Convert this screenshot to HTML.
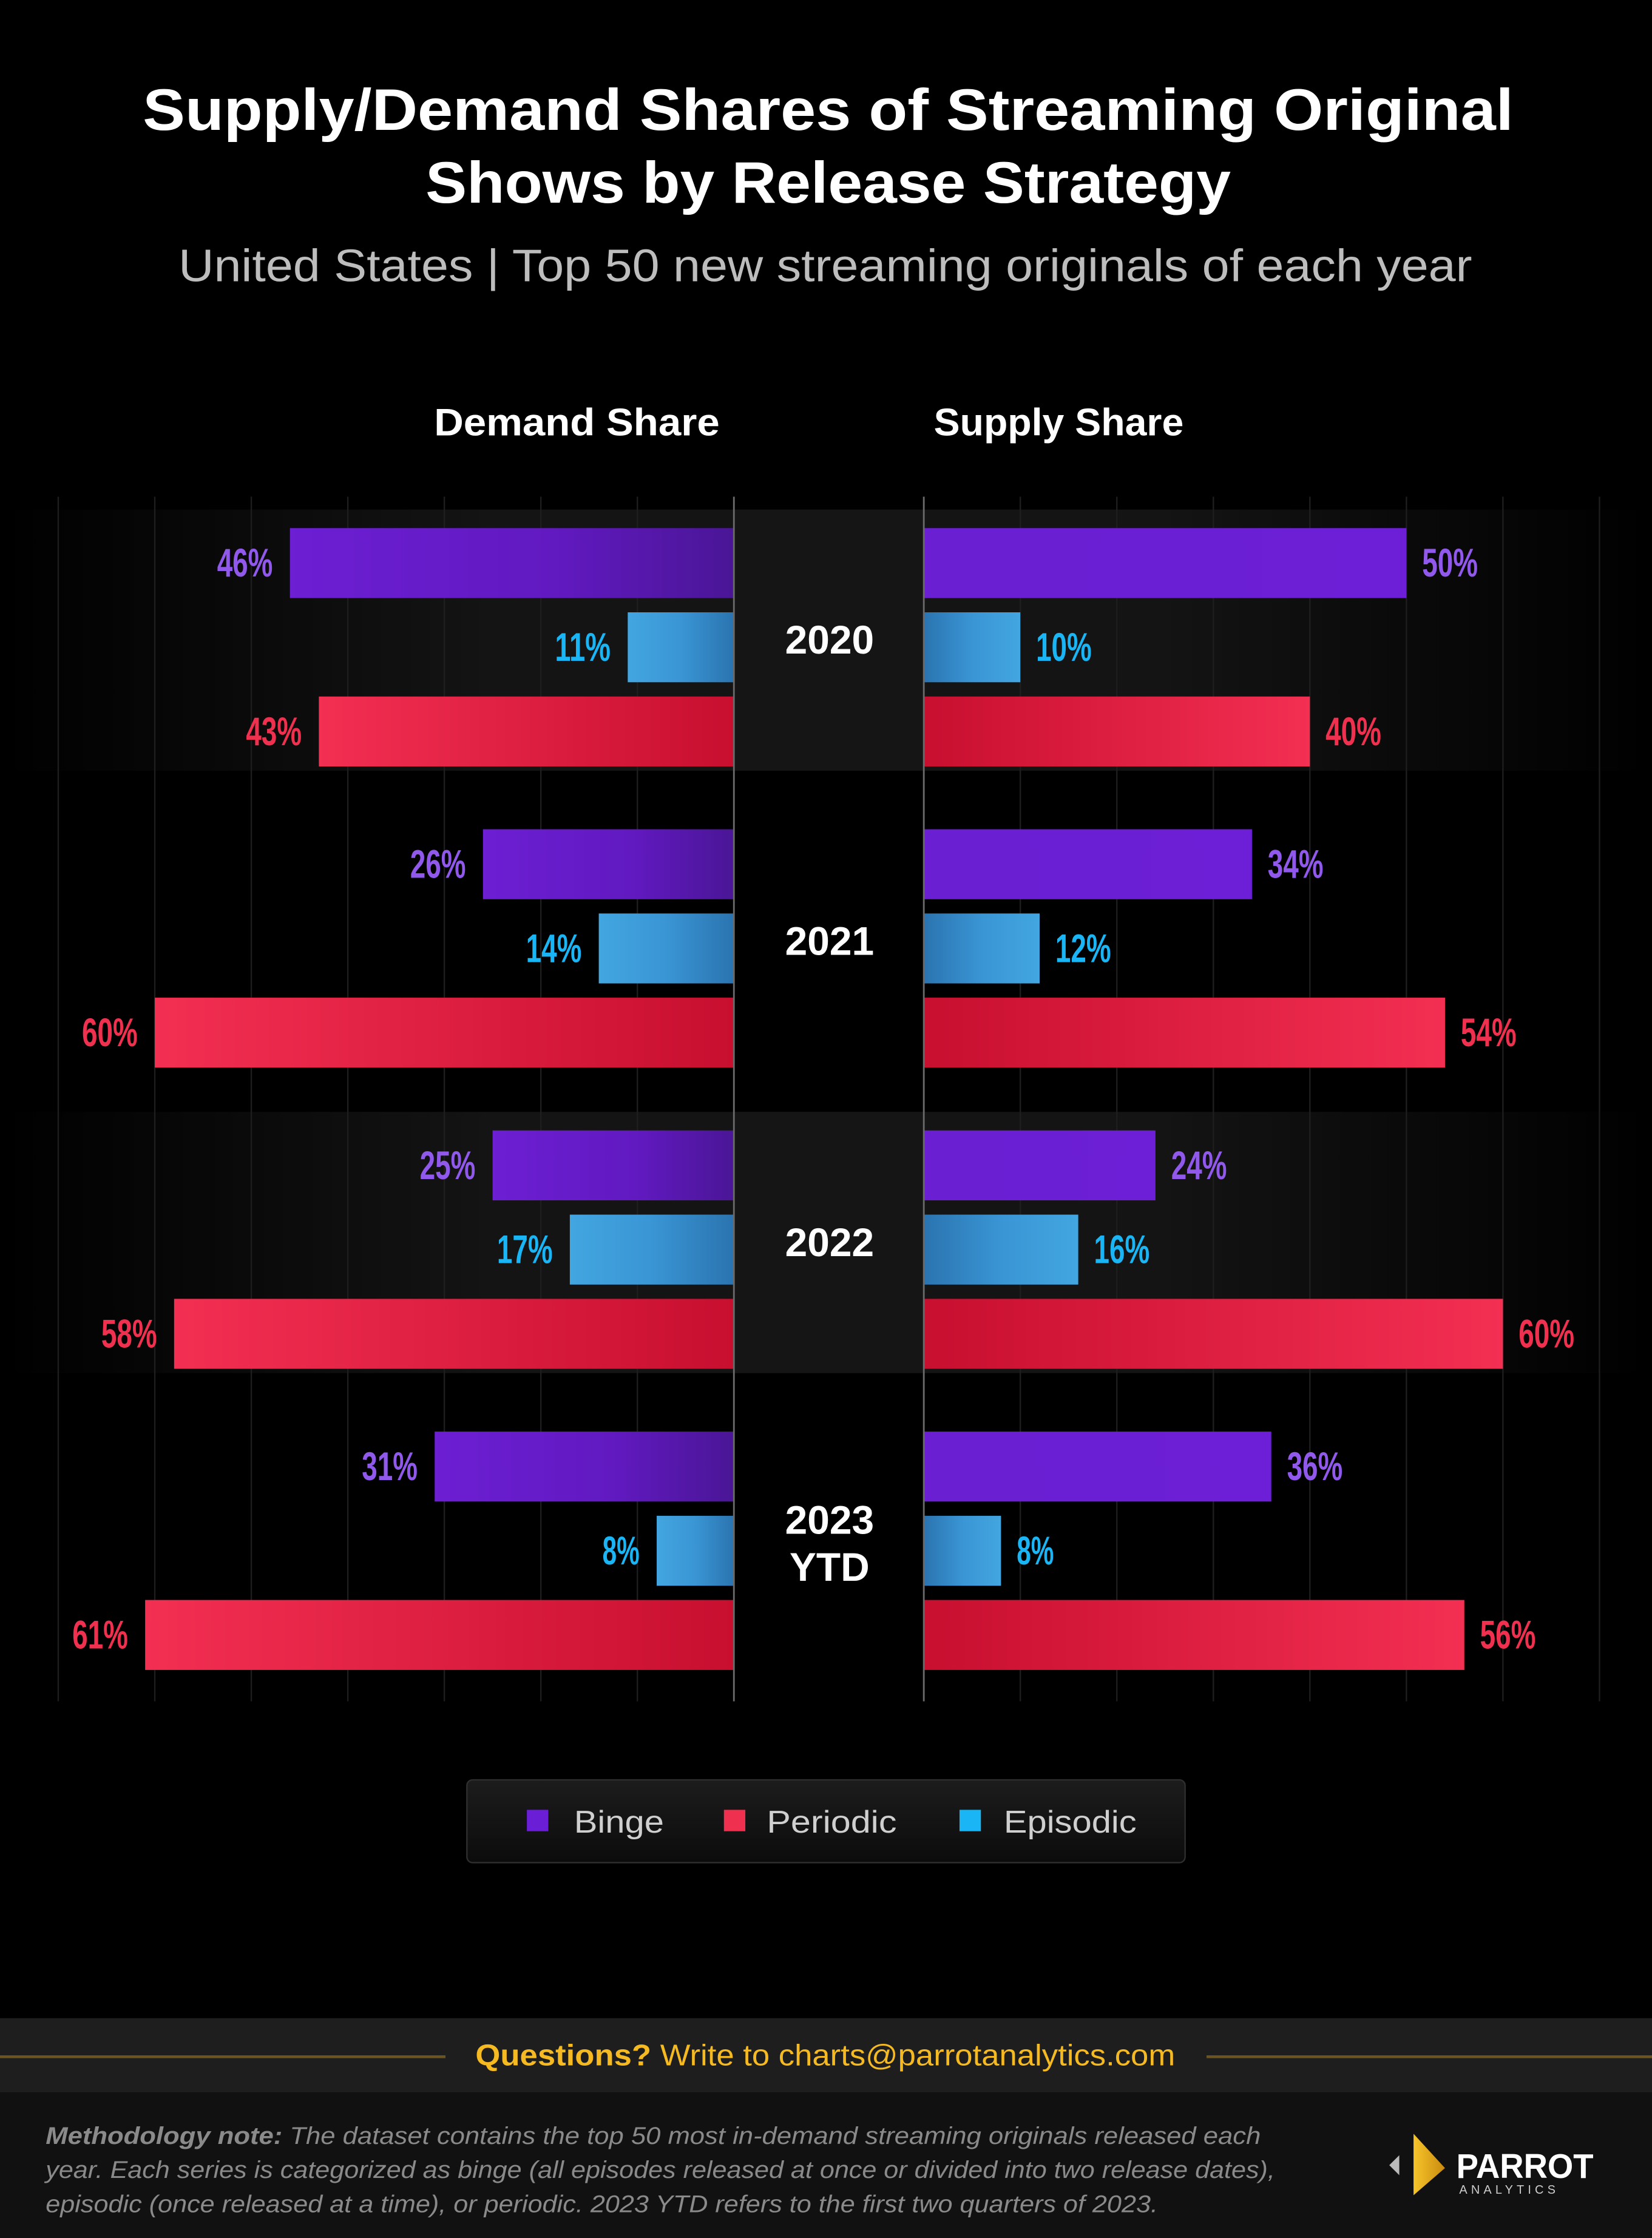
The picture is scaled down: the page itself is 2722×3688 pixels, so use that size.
<!DOCTYPE html>
<html><head><meta charset="utf-8"><style>
html,body{margin:0;padding:0;background:#000;}
svg{display:block;}
text{font-family:"Liberation Sans",sans-serif;}
</style></head><body>
<svg id="chart" width="2722" height="3688" viewBox="0 0 1157 1568" preserveAspectRatio="none" xmlns="http://www.w3.org/2000/svg">
<defs>
<linearGradient id="bandL" x1="0" x2="1"><stop offset="0" stop-color="#141414" stop-opacity="0"/><stop offset="0.3" stop-color="#141414"/><stop offset="0.7" stop-color="#141414"/><stop offset="1" stop-color="#141414" stop-opacity="0"/></linearGradient>
<linearGradient id="bingeL" x1="0" x2="1"><stop offset="0" stop-color="#6c1fd3"/><stop offset="0.6" stop-color="#6119c0"/><stop offset="1" stop-color="#4a1696"/></linearGradient>
<linearGradient id="bingeR" x1="0" x2="1"><stop offset="0" stop-color="#6a1fd2"/><stop offset="1" stop-color="#6c1fd6"/></linearGradient>
<linearGradient id="epiL" x1="0" x2="1"><stop offset="0" stop-color="#42a6e0"/><stop offset="0.5" stop-color="#3a95d4"/><stop offset="1" stop-color="#2a74b0"/></linearGradient>
<linearGradient id="epiR" x1="0" x2="1"><stop offset="0" stop-color="#2a74b0"/><stop offset="0.5" stop-color="#3a95d4"/><stop offset="1" stop-color="#42a6e0"/></linearGradient>
<linearGradient id="perL" x1="0" x2="1"><stop offset="0" stop-color="#f32f52"/><stop offset="1" stop-color="#c80f30"/></linearGradient>
<linearGradient id="perR" x1="0" x2="1"><stop offset="0" stop-color="#c80f30"/><stop offset="1" stop-color="#f32f52"/></linearGradient>
<linearGradient id="legendG" x1="0" x2="0" y1="0" y2="1"><stop offset="0" stop-color="#1c1c1c"/><stop offset="1" stop-color="#0c0c0c"/></linearGradient>
<linearGradient id="logoG" x1="0" x2="1"><stop offset="0" stop-color="#f7c52a"/><stop offset="1" stop-color="#c98a10"/></linearGradient>
</defs>
<rect x="0" y="0" width="1157" height="1568" fill="#000"/>
<text x="100" y="91" textLength="960" lengthAdjust="spacingAndGlyphs" fill="#fff" font-size="41" font-weight="bold">Supply/Demand Shares of Streaming Original</text>
<text x="298" y="142" textLength="564" lengthAdjust="spacingAndGlyphs" fill="#fff" font-size="41" font-weight="bold">Shows by Release Strategy</text>
<text x="125" y="197" textLength="906" lengthAdjust="spacingAndGlyphs" fill="#bdbdbd" font-size="32">United States  |  Top 50 new streaming originals of each year</text>
<text x="304" y="305" textLength="200" lengthAdjust="spacingAndGlyphs" fill="#fff" font-size="27" font-weight="bold">Demand Share</text>
<text x="654" y="305" textLength="175" lengthAdjust="spacingAndGlyphs" fill="#fff" font-size="27" font-weight="bold">Supply Share</text>
<g id="plot"></g>
<g>
<rect x="327" y="1247" width="503" height="58" rx="4" fill="url(#legendG)" stroke="#2e2e2e"/>
<rect x="369" y="1268" width="15" height="15" fill="#6a1fd6"/>
<text x="402" y="1284" textLength="63" lengthAdjust="spacingAndGlyphs" fill="#cfcfcf" font-size="22">Binge</text>
<rect x="507" y="1268" width="15" height="15" fill="#f0304f"/>
<text x="537" y="1284" textLength="91" lengthAdjust="spacingAndGlyphs" fill="#cfcfcf" font-size="22">Periodic</text>
<rect x="672" y="1268" width="15" height="15" fill="#19b5f5"/>
<text x="703" y="1284" textLength="93" lengthAdjust="spacingAndGlyphs" fill="#cfcfcf" font-size="22">Episodic</text>
</g>
<rect x="0" y="1414" width="1157" height="52" fill="#1e1e1e"/>
<line x1="0" y1="1441" x2="312" y2="1441" stroke="#6b5420" stroke-width="2"/>
<line x1="845" y1="1441" x2="1157" y2="1441" stroke="#6b5420" stroke-width="2"/>
<text x="333" y="1447" textLength="490" lengthAdjust="spacingAndGlyphs" fill="#f5b921" font-size="21"><tspan font-weight="bold">Questions?</tspan> Write to charts@parrotanalytics.com</text>
<rect x="0" y="1466" width="1157" height="102" fill="#111"/>
<g fill="#8a8a8a" font-size="17" font-style="italic">
<text x="32" y="1502" textLength="851" lengthAdjust="spacingAndGlyphs"><tspan font-weight="bold">Methodology note:</tspan> The dataset contains the top 50 most in-demand streaming originals released each</text>
<text x="32" y="1526" textLength="861" lengthAdjust="spacingAndGlyphs">year. Each series is categorized as binge (all episodes released at once or divided into two release dates),</text>
<text x="32" y="1550" textLength="779" lengthAdjust="spacingAndGlyphs">episodic (once released at a time), or periodic. 2023 YTD refers to the first two quarters of 2023.</text>
</g>
<g>
<polygon points="973,1517 980,1510 980,1524" fill="#bbb"/>
<polygon points="990,1495 1012,1519 990,1538" fill="url(#logoG)"/>
<text x="1020" y="1526" textLength="96" lengthAdjust="spacingAndGlyphs" fill="#fff" font-size="24" font-weight="bold">PARROT</text>
<text x="1022" y="1537" fill="#ccc" font-size="8.5" letter-spacing="2.6">ANALYTICS</text>
</g>
</svg>
<script>
const years = ["2020","2021","2022","2023 YTD"];
const demandBinge = [46,26,25,31];
const demandEpisodic = [11,14,17,8];
const demandPeriodic = [43,60,58,61];
const supplyBinge = [50,34,24,36];
const supplyEpisodic = [10,12,16,8];
const supplyPeriodic = [40,54,60,56];
const gridTicks = [0,10,20,30,40,50,60,70];

const NS="http://www.w3.org/2000/svg";
const plot=document.getElementById('plot');
const L0=514, R0=647, PX=6.76, TOP=370, GROUP=211, ROW=59, BH=49;
const xl=v=>L0-v*PX, xr=v=>R0+v*PX;
const gy=i=>TOP+i*GROUP;
function mk(tag,attrs){const e=document.createElementNS(NS,tag);for(const k in attrs)e.setAttribute(k,attrs[k]);plot.appendChild(e);return e;}
years.forEach((y,i)=>{ if(i%2===0){
  const b=mk('rect',{x:0,y:gy(i)-13,width:1157,height:183,fill:'url(#bandL)'});
  
  
  const c=mk('rect',{x:L0,y:gy(i)-13,width:R0-L0,height:183,fill:'#151515'});
  
  
}});
gridTicks.forEach(t=>{ if(t===0)return;
  [xl(t),xr(t)].forEach(x=>{ if(x<30||x>1127)return;
    const g=mk('line',{x1:x,y1:348,x2:x,y2:1192,stroke:'#1e1e1e','stroke-width':1});
    
    
  });
});
const series=[
 {name:'binge',d:demandBinge,s:supplyBinge,fl:'url(#bingeL)',fr:'url(#bingeR)',lc:'#9059ec'},
 {name:'episodic',d:demandEpisodic,s:supplyEpisodic,fl:'url(#epiL)',fr:'url(#epiR)',lc:'#19b5f5'},
 {name:'periodic',d:demandPeriodic,s:supplyPeriodic,fl:'url(#perL)',fr:'url(#perR)',lc:'#f0304f'}
];
years.forEach((y,i)=>{
  series.forEach((sr,j)=>{
    const top=gy(i)+j*ROW, dv=sr.d[i], sv=sr.s[i];
    const b1=mk('rect',{x:xl(dv),y:top,width:dv*PX,height:BH,fill:sr.fl});
    
    
    const b2=mk('rect',{x:R0,y:top,width:sv*PX,height:BH,fill:sr.fr});
    
    
    const s1=dv+'%', s2=sv+'%';
    const t1=mk('text',{x:xl(dv)-12,y:top+34,'text-anchor':'end',fill:sr.lc,'font-size':28,'font-weight':'bold',textLength:s1.length*13,lengthAdjust:'spacingAndGlyphs'});
    t1.textContent=s1;
    
    
    const t2=mk('text',{x:xr(sv)+11,y:top+34,'text-anchor':'start',fill:sr.lc,'font-size':28,'font-weight':'bold',textLength:s2.length*13,lengthAdjust:'spacingAndGlyphs'});
    t2.textContent=s2;
    
    
  });
  const parts=y.split(' ');
  const cy=gy(i)+78;
  parts.forEach((p,k)=>{
    const t=mk('text',{x:581,y:cy+10+(k-(parts.length-1)/2)*33,'text-anchor':'middle',fill:'#fff','font-size':28,'font-weight':'bold'});
    t.textContent=p;
    
    
  });
});
[L0,R0].forEach(x=>{
  const a=mk('line',{x1:x,y1:348,x2:x,y2:1192,stroke:'#6a6a6a','stroke-width':1.2});
  
  
});
</script>
</body></html>
